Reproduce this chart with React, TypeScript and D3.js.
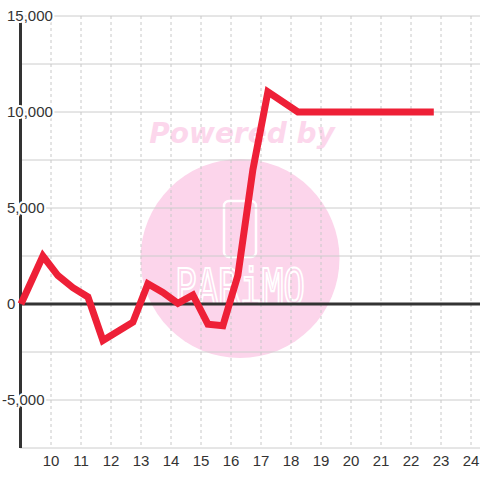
import React from "react";
import * as d3 from "d3";

const xValues = [9, 9.73, 10.23, 10.73, 11.23, 11.73, 12.73, 13.23, 13.73, 14.23, 14.73, 15.23, 15.73, 16.23, 16.73, 17.23, 18.23, 18.73, 19.23, 19.73, 20.23, 20.73, 21.23, 21.73, 22.23, 22.76];
const yValues = [0, 2500, 1480, 850, 370, -1900, -950, 1050, 600, 30, 470, -1050, -1130, 1500, 7000, 11050, 10000, 10000, 10000, 10000, 10000, 10000, 10000, 10000, 10000, 10000];
const xTicks = [10, 11, 12, 13, 14, 15, 16, 17, 18, 19, 20, 21, 22, 23, 24];
const yTickLabels = [15000, 10000, 5000, 0, -5000];
const yGrid = [15000, 12500, 10000, 7500, 5000, 2500, 0, -2500, -5000, -7500];

const W = 480;
const H = 480;

export default function App() {
  const x = d3.scaleLinear().domain([9, 24]).range([21, 471]);
  const y = d3.scaleLinear().domain([-7500, 15000]).range([448, 16]);
  const pts: [number, number][] = xValues.map((v, i) => [v, yValues[i]]);
  const line = d3
    .line<[number, number]>()
    .x((d) => x(d[0]))
    .y((d) => y(d[1]));
  const fmt = d3.format(",");
  const font = "'Liberation Sans', Arial, sans-serif";

  return (
    <svg
      width={W}
      height={H}
      style={{ position: "absolute", left: 0, top: 0, background: "#ffffff" }}
    >
      <rect x={0} y={0} width={W} height={H} fill="#ffffff" />
      {/* watermark */}
      <g>
        <text
          x={242}
          y={143}
          textAnchor="middle"
          fontFamily="'DejaVu Sans', sans-serif"
          fontWeight="bold"
          fontStyle="italic"
          fontSize={28}
          fill="#fcd7ec"
        >
          Powered by
        </text>
        <circle cx={240} cy={258.5} r={99.5} fill="#fcd5eb" />
        <rect x={224} y={201} width={32} height={56} rx={5} fill="none" stroke="#ffffff" strokeWidth={2.5} />
        <text
          x={240}
          y={0}
          textAnchor="middle"
          fontFamily="'DejaVu Sans Mono', monospace"
          fontSize={36}
          fill="none"
          stroke="#ffffff"
          strokeWidth={1.6}
          transform="translate(0,304) scale(1,1.4)"
        >
          PARiMO
        </text>
      </g>
      {/* grid */}
      {yGrid.map((v) => (
        <line key={"hg" + v} x1={20} x2={W} y1={y(v)} y2={y(v)} stroke="#cccccc" strokeWidth={1} />
      ))}
      {xTicks.map((v) => (
        <line
          key={"vg" + v}
          x1={x(v)}
          x2={x(v)}
          y1={16}
          y2={448}
          stroke="#c8c8c8"
          strokeWidth={1}
          strokeDasharray="3,3"
        />
      ))}
      {/* axes */}
      <line x1={20.5} x2={20.5} y1={16} y2={448} stroke="#333333" strokeWidth={3} />
      <line x1={20} x2={W} y1={y(0)} y2={y(0)} stroke="#333333" strokeWidth={3} />
      {/* y labels */}
      {yTickLabels.map((v) => (
        <text
          key={"yl" + v}
          x={v < 0 ? 2 : 7}
          y={y(v)}
          dy="0.35em"
          fontFamily={font}
          fontSize={15}
          fill="#333333"
          stroke="#ffffff"
          strokeWidth={4}
          paintOrder="stroke"
          strokeLinejoin="round"
        >
          {fmt(v).replace("−", "-")}
        </text>
      ))}
      {/* x labels */}
      {xTicks.map((v) => (
        <text
          key={"xl" + v}
          x={x(v)}
          y={461}
          dy="0.35em"
          textAnchor="middle"
          fontFamily={font}
          fontSize={15}
          fill="#333333"
        >
          {v}
        </text>
      ))}
      {/* data line */}
      <path d={line(pts) || ""} fill="none" stroke="#ee2037" strokeWidth={7} strokeLinejoin="miter" />
    </svg>
  );
}
